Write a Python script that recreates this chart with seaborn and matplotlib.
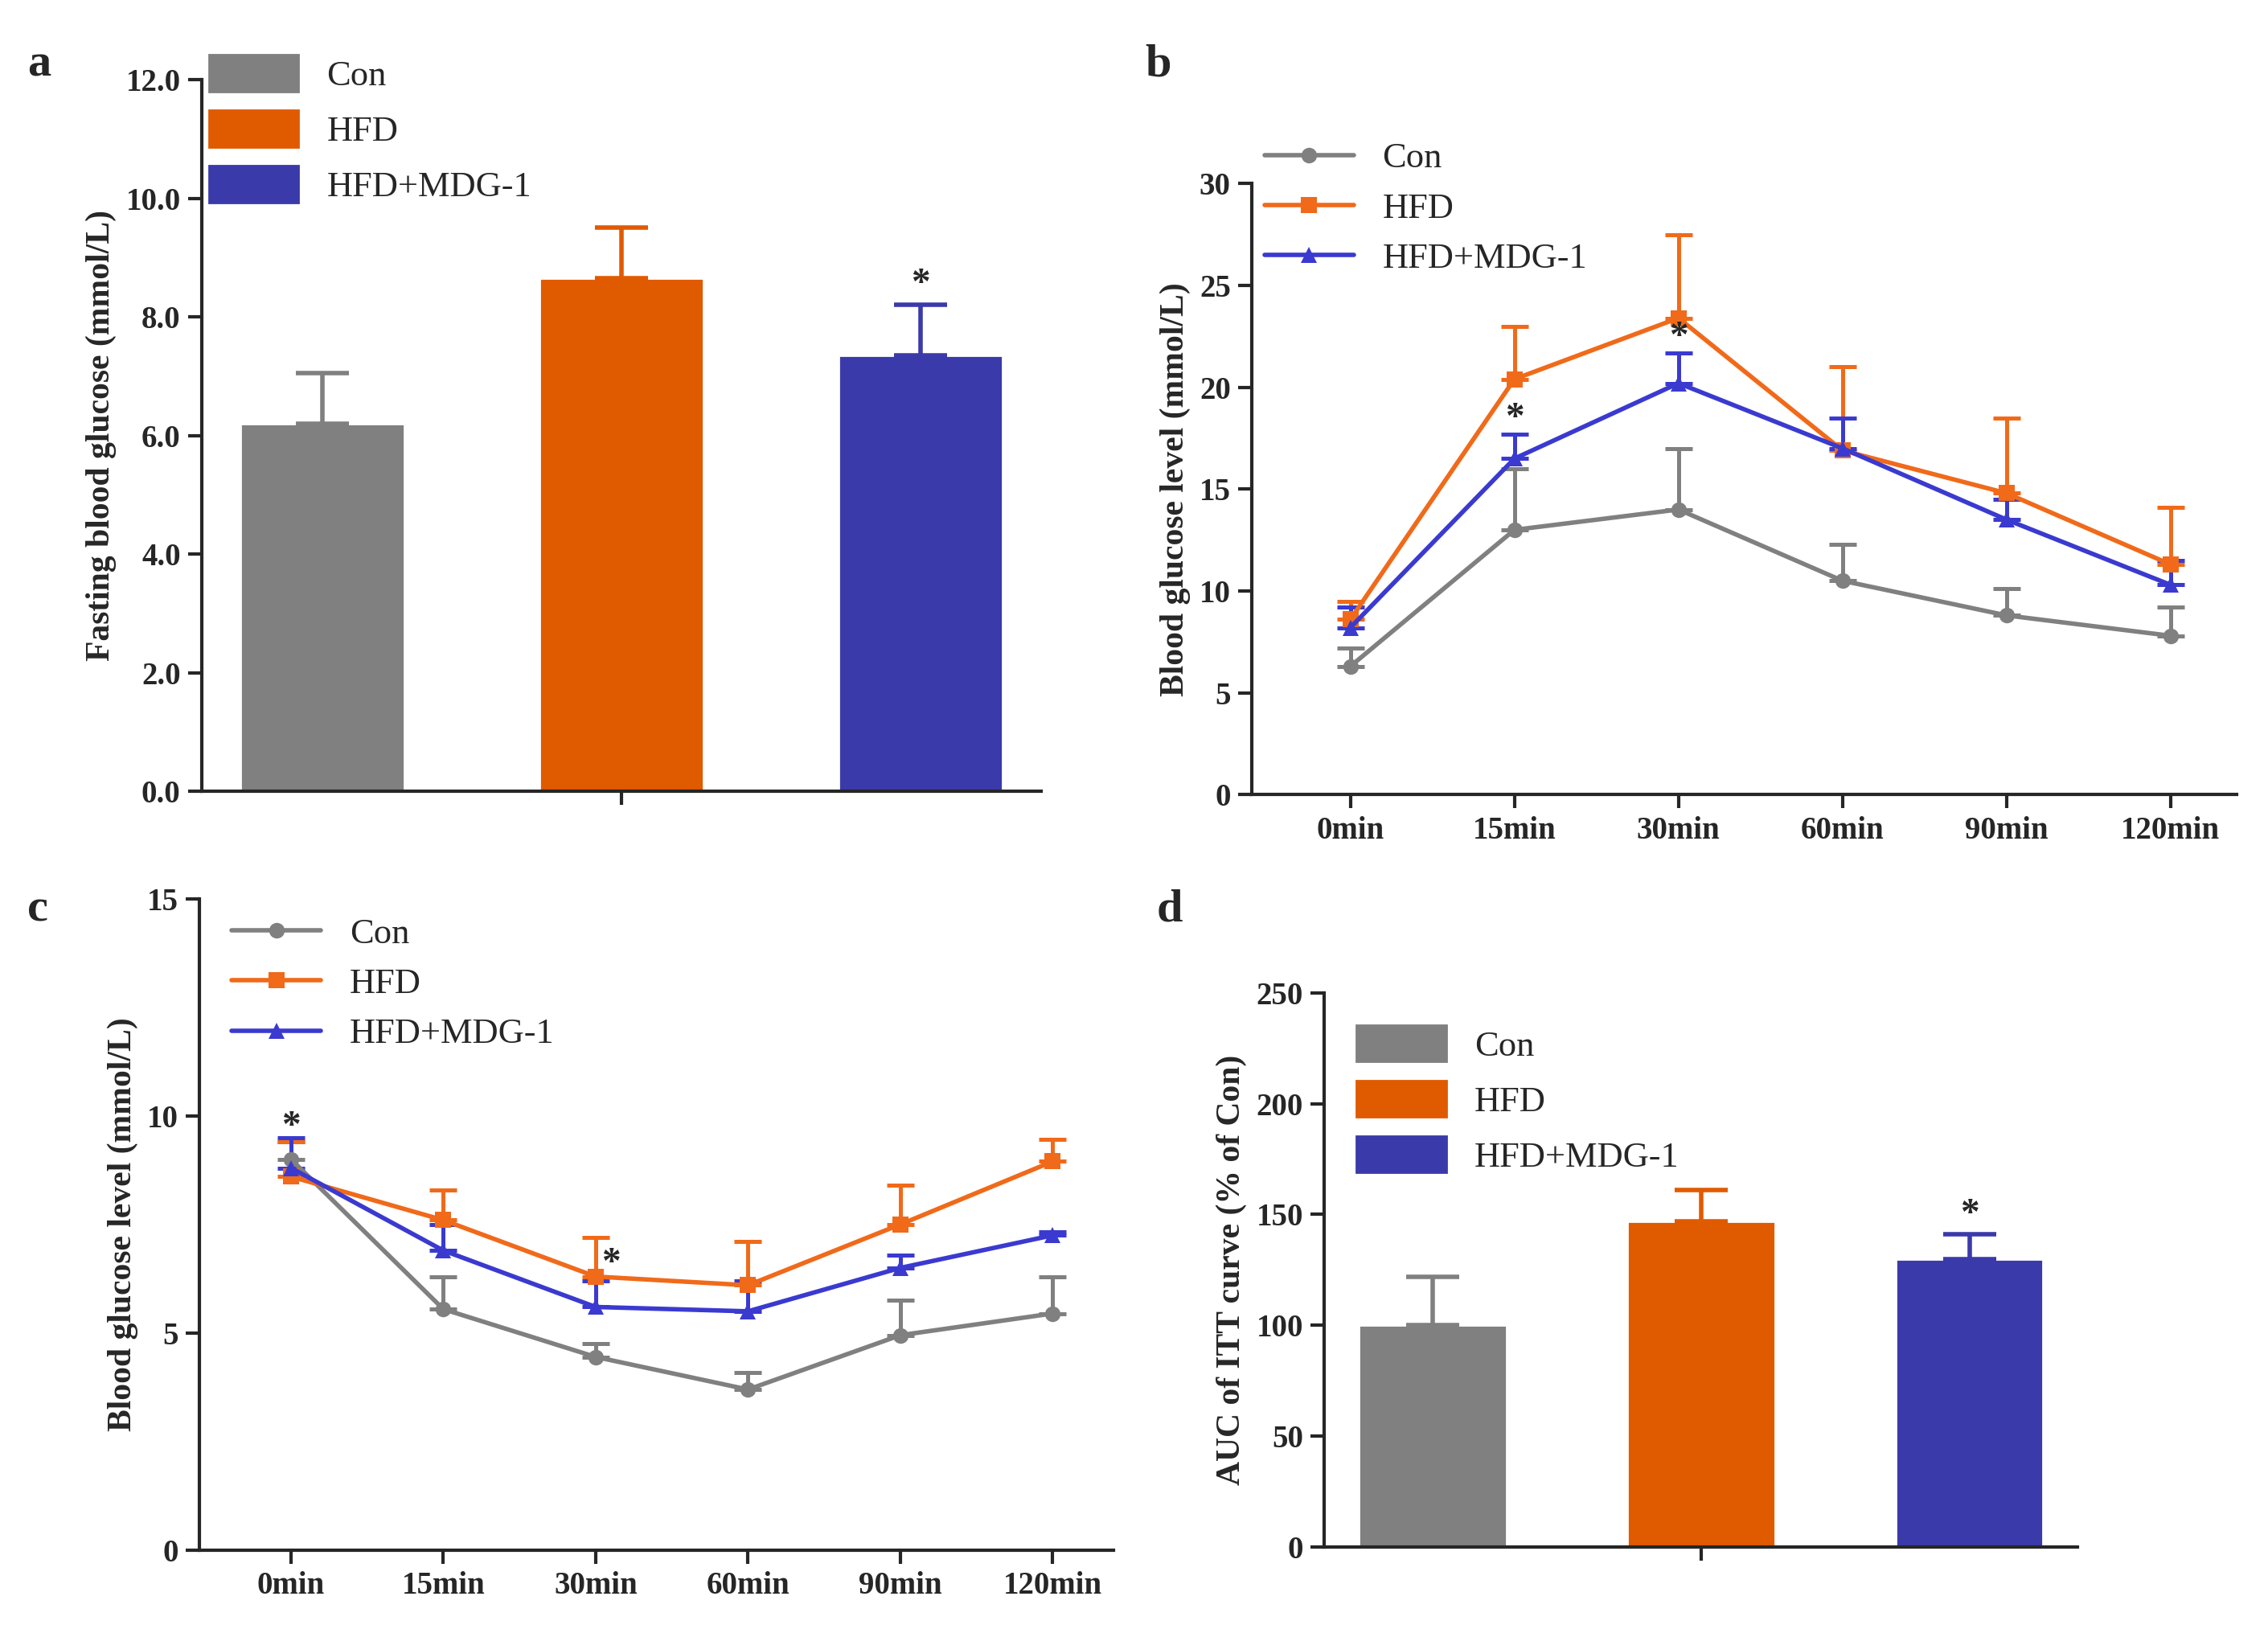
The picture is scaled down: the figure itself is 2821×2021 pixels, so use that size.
import matplotlib
matplotlib.use("Agg")
import matplotlib.pyplot as plt
import seaborn as sns
import pandas as pd
import numpy as np

sns.set_theme(style="ticks")
plt.rcParams['font.family'] = ['Liberation Serif', 'DejaVu Serif']
plt.rcParams['font.weight'] = 'bold'
plt.rcParams['axes.labelweight'] = 'bold'

groups = ["Con", "HFD", "HFD+MDG-1"]
bar_colors = ["#808080", "#E05A00", "#3A3AAA"]
line_colors = ["#808080", "#F06A1A", "#3A3AD0"]
markers = ["o", "s", "^"]

fbg_mean = [6.2, 8.65, 7.35]
fbg_err = [0.85, 0.85, 0.85]

times = ["0min", "15min", "30min", "60min", "90min", "120min"]
ogtt = {
    "Con": [6.3, 13.0, 14.0, 10.5, 8.8, 7.8],
    "HFD": [8.6, 20.4, 23.4, 16.9, 14.8, 11.3],
    "HFD+MDG-1": [8.2, 16.5, 20.2, 17.0, 13.5, 10.3],
}
ogtt_err = {
    "Con": [0.9, 3.0, 3.0, 1.8, 1.3, 1.4],
    "HFD": [0.9, 2.6, 4.1, 4.1, 3.7, 2.8],
    "HFD+MDG-1": [1.0, 1.2, 1.5, 1.5, 1.0, 1.2],
}
itt = {
    "Con": [9.0, 5.55, 4.45, 3.7, 4.95, 5.45],
    "HFD": [8.6, 7.6, 6.3, 6.1, 7.5, 8.95],
    "HFD+MDG-1": [8.8, 6.9, 5.6, 5.5, 6.5, 7.25],
}
itt_err = {
    "Con": [0.4, 0.75, 0.3, 0.4, 0.8, 0.85],
    "HFD": [0.8, 0.7, 0.9, 1.0, 0.9, 0.5],
    "HFD+MDG-1": [0.7, 0.6, 0.6, 0.7, 0.3, 0.08],
}
auc_mean = [100, 147, 130]
auc_err = [22, 14, 11]

fig = plt.figure(figsize=(14.105, 10.105), dpi=200)
axa = fig.add_axes([0.089, 0.513, 0.37, 0.438])
axb = fig.add_axes([0.552, 0.511, 0.434, 0.376])
axc = fig.add_axes([0.088, 0.046, 0.403, 0.401])
axd = fig.add_axes([0.584, 0.048, 0.332, 0.341])

FS = 15

def style(ax):
    sns.despine(ax=ax)
    for s in ["left", "bottom"]:
        ax.spines[s].set_linewidth(1.5)
    ax.tick_params(width=1.5, length=6, labelsize=FS - 1)
    for t in ax.get_xticklabels() + ax.get_yticklabels():
        t.set_fontweight('bold')

def bar_panel(ax, means, errs, ylim, yticks, fmt, ylabel, legend_anchor):
    df = pd.DataFrame({"group": groups, "value": means})
    sns.barplot(data=df, x="group", y="value", hue="group", palette=bar_colors,
                width=0.55, ax=ax, legend=False, saturation=1)
    for i, (m, e) in enumerate(zip(means, errs)):
        ax.errorbar(i, m, yerr=[[0], [e]], color=bar_colors[i], capsize=12,
                    elinewidth=2, capthick=2)
    ax.text(2, means[2] + errs[2] + ylim[1] * 0.005, "*", ha="center", va="bottom", fontsize=FS + 2)
    ax.set_ylim(*ylim)
    ax.set_yticks(yticks)
    ax.set_yticklabels([fmt.format(v) for v in yticks])
    ax.set_xticks([1])
    ax.set_xticklabels([""])
    ax.set_xlabel("")
    ax.set_ylabel(ylabel, fontsize=FS)
    handles = [plt.Rectangle((0, 0), 1, 1, color=c) for c in bar_colors]
    ax.legend(handles, groups, frameon=False, prop={'size': FS + 1, 'weight': 'normal'},
              loc="upper left", bbox_to_anchor=legend_anchor, handlelength=2.5, handleheight=1.2)
    style(ax)

def line_panel(ax, data, errs, ylim, yticks, stars, legend_anchor):
    rows = []
    for g in groups:
        for i, v in enumerate(data[g]):
            rows.append({"group": g, "t": i, "value": v})
    df = pd.DataFrame(rows)
    for k, g in enumerate(groups):
        ax.errorbar(range(len(times)), data[g], yerr=[np.zeros(len(times)), errs[g]],
                    fmt="none", ecolor=line_colors[k], capsize=6, elinewidth=1.8, capthick=1.8)
    sns.lineplot(data=df, x="t", y="value", hue="group", style="group",
                 palette=line_colors, markers=markers, dashes=False, linewidth=2,
                 markersize=7, markeredgewidth=0, ax=ax)
    for (i, y) in stars:
        ax.text(i, y, "*", ha="center", va="bottom", fontsize=FS + 2)
    ax.set_ylim(*ylim)
    ax.set_yticks(yticks)
    ax.set_xlim(-0.6, 5.4)
    ax.set_xticks(range(len(times)))
    ax.set_xticklabels(times)
    ax.set_xlabel("")
    ax.set_ylabel("Blood glucose level (mmol/L)", fontsize=FS)
    ax.legend(frameon=False, prop={'size': FS + 1, 'weight': 'normal'}, loc="upper left",
              bbox_to_anchor=legend_anchor, handlelength=2.5, title=None)
    style(ax)

bar_panel(axa, fbg_mean, fbg_err, (0, 12), np.arange(0, 12.1, 2), "{:.1f}",
          "Fasting blood glucose (mmol/L)", (-0.03, 1.08))
line_panel(axb, ogtt, ogtt_err, (0, 30), range(0, 31, 5),
           [(1, 17.6), (2, 21.6)], (-0.02, 1.12))
line_panel(axc, itt, itt_err, (0, 15), [0, 5, 10, 15],
           [(0, 9.35), (2.1, 6.2)], (0.0, 1.02))
bar_panel(axd, auc_mean, auc_err, (0, 250), range(0, 251, 50), "{:d}",
          "AUC of ITT curve (% of Con)", (0.0, 1.0))

for ax, lab, (x, y) in [(axa, "a", (0.012, 0.96)), (axb, "b", (0.505, 0.96)),
                        (axc, "c", (0.012, 0.44)), (axd, "d", (0.51, 0.44))]:
    fig.text(x, y, lab, fontsize=FS + 6, fontweight="bold", va="center")

fig.savefig("out.png", dpi=200)
